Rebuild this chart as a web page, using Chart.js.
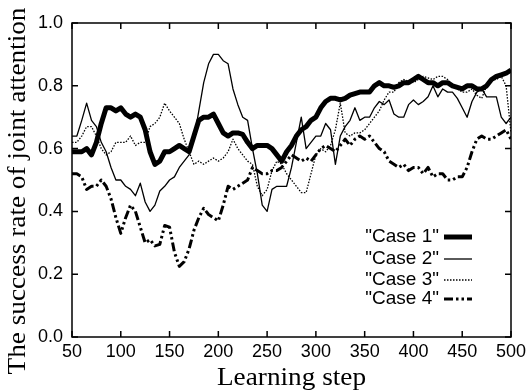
<!DOCTYPE html>
<html><head><meta charset="utf-8">
<script src="https://cdn.jsdelivr.net/npm/chart.js@4"></script>
<style>html,body{margin:0;padding:0;background:#fff}canvas{display:block}</style>
</head><body>
<canvas id="c" width="531" height="392"></canvas>
<script>
const steps = [50,55,60,65,70,75,80,85,90,95,100,105,110,115,120,125,130,135,140,145,150,155,160,165,170,175,180,185,190,195,200,205,210,215,220,225,230,235,240,245,250,255,260,265,270,275,280,285,290,295,300,305,310,315,320,325,330,335,340,345,350,355,360,365,370,375,380,385,390,395,400,405,410,415,420,425,430,435,440,445,450,455,460,465,470,475,480,485,490,495,500];

const case1 = [0.59,0.59,0.59,0.60,0.58,0.62,0.68,0.73,0.73,0.72,0.73,0.71,0.70,0.71,0.70,0.66,0.59,0.55,0.56,0.59,0.59,0.60,0.61,0.60,0.59,0.64,0.69,0.70,0.70,0.71,0.68,0.65,0.64,0.65,0.65,0.645,0.62,0.60,0.61,0.61,0.61,0.60,0.58,0.56,0.59,0.61,0.64,0.66,0.67,0.69,0.70,0.73,0.75,0.76,0.76,0.755,0.76,0.77,0.775,0.78,0.78,0.78,0.80,0.81,0.80,0.80,0.795,0.80,0.81,0.81,0.82,0.83,0.82,0.81,0.81,0.80,0.81,0.81,0.80,0.795,0.79,0.80,0.80,0.79,0.79,0.80,0.82,0.83,0.835,0.84,0.85];

const case2 = [0.64,0.64,0.69,0.745,0.69,0.67,0.62,0.59,0.54,0.50,0.50,0.48,0.47,0.45,0.49,0.43,0.40,0.42,0.465,0.48,0.50,0.51,0.54,0.56,0.58,0.63,0.72,0.81,0.87,0.90,0.90,0.88,0.87,0.79,0.74,0.70,0.69,0.60,0.52,0.42,0.40,0.47,0.48,0.48,0.48,0.54,0.62,0.70,0.60,0.62,0.64,0.64,0.68,0.66,0.55,0.64,0.67,0.69,0.73,0.69,0.70,0.70,0.73,0.75,0.74,0.755,0.71,0.70,0.70,0.74,0.755,0.74,0.75,0.765,0.80,0.765,0.79,0.78,0.78,0.76,0.73,0.70,0.75,0.78,0.79,0.765,0.765,0.765,0.70,0.68,0.70];

const case3 = [0.62,0.62,0.64,0.67,0.67,0.64,0.60,0.58,0.59,0.62,0.62,0.62,0.64,0.61,0.62,0.62,0.67,0.68,0.70,0.745,0.72,0.70,0.68,0.63,0.59,0.55,0.56,0.55,0.56,0.57,0.56,0.57,0.59,0.63,0.60,0.58,0.56,0.55,0.48,0.45,0.47,0.53,0.56,0.55,0.52,0.50,0.48,0.46,0.46,0.52,0.58,0.60,0.59,0.61,0.66,0.745,0.65,0.64,0.65,0.65,0.66,0.68,0.70,0.72,0.755,0.78,0.78,0.81,0.82,0.815,0.81,0.82,0.83,0.825,0.82,0.83,0.83,0.82,0.80,0.79,0.78,0.78,0.79,0.77,0.76,0.80,0.82,0.82,0.83,0.80,0.65];

const case4 = [0.52,0.52,0.51,0.47,0.48,0.48,0.50,0.48,0.44,0.38,0.33,0.38,0.42,0.40,0.35,0.30,0.31,0.29,0.295,0.355,0.35,0.27,0.225,0.24,0.28,0.34,0.38,0.41,0.39,0.38,0.37,0.42,0.48,0.47,0.48,0.49,0.50,0.54,0.53,0.52,0.52,0.53,0.53,0.54,0.56,0.58,0.57,0.56,0.57,0.56,0.58,0.60,0.61,0.60,0.59,0.61,0.63,0.61,0.63,0.64,0.63,0.64,0.62,0.60,0.59,0.56,0.55,0.54,0.55,0.53,0.54,0.54,0.52,0.54,0.51,0.52,0.52,0.50,0.50,0.51,0.51,0.54,0.59,0.63,0.64,0.63,0.63,0.64,0.65,0.66,0.63];

const seriesNames = ['"Case 1"','"Case 2"','"Case 3"','"Case 4"'];
const xTicks = [50,100,150,200,250,300,350,400,450,500];
const yTicks = [0.0,0.2,0.4,0.6,0.8,1.0];
const xTitle = 'Learning step';
const yTitle = 'The success rate of joint attention';

const styles = [
  {borderWidth:5, borderDash:[]},
  {borderWidth:1.3, borderDash:[]},
  {borderWidth:1.3, borderDash:[1.5,1.5]},
  {borderWidth:3, borderDash:[9,3,2.5,3,2.5,3]}
];
const series = [case1, case2, case3, case4];

const datasets = series.map((vals,i)=>({
  label: seriesNames[i],
  data: steps.map((s,j)=>({x:s, y:vals[j]})),
  borderColor:'#000',
  backgroundColor:'#000',
  borderWidth: styles[i].borderWidth,
  borderDash: styles[i].borderDash,
  pointRadius:0,
  tension:0,
  fill:false,
  borderJoinStyle:'round'
}));

const framePlugin = {
  id:'framePlugin',
  afterDraw(chart){
    const {ctx, chartArea:a, scales:{x,y}} = chart;
    ctx.save();
    ctx.strokeStyle='#000';
    ctx.lineWidth=1.5;
    ctx.strokeRect(a.left, a.top, a.right-a.left, a.bottom-a.top);
    ctx.beginPath();
    const tl = 6;
    xTicks.forEach(v=>{
      const px = x.getPixelForValue(v);
      ctx.moveTo(px,a.bottom); ctx.lineTo(px,a.bottom-tl);
      ctx.moveTo(px,a.top); ctx.lineTo(px,a.top+tl);
    });
    yTicks.forEach(v=>{
      const py = y.getPixelForValue(v);
      ctx.moveTo(a.left,py); ctx.lineTo(a.left+tl,py);
      ctx.moveTo(a.right,py); ctx.lineTo(a.right-tl,py);
    });
    ctx.stroke();

    // axis titles
    ctx.fillStyle='#000';
    ctx.font='25px "Liberation Serif", "Times New Roman", serif';
    ctx.textAlign='center';
    ctx.textBaseline='alphabetic';
    ctx.save();
    ctx.translate((a.left+a.right)/2, 385);
    ctx.scale(1.09,1);
    ctx.fillText(xTitle, 0, 0);
    ctx.restore();
    ctx.save();
    ctx.translate(25, 191);
    ctx.rotate(-Math.PI/2);
    ctx.scale(1.09,1);
    ctx.fillText(yTitle, 0, 0);
    ctx.restore();

    // legend
    ctx.font='19px "Liberation Sans", Arial, sans-serif';
    ctx.textAlign='right';
    ctx.textBaseline='middle';
    const rows=[237,259,280,299];
    chart.data.datasets.forEach((ds,i)=>{
      const ry = rows[i];
      ctx.fillText(ds.label, 439, ry);
      ctx.beginPath();
      ctx.lineWidth = ds.borderWidth;
      ctx.setLineDash(ds.borderDash);
      ctx.moveTo(444, ry); ctx.lineTo(472, ry);
      ctx.stroke();
    });
    ctx.setLineDash([]);
    ctx.restore();
  }
};

new Chart(document.getElementById('c'), {
  type:'line',
  data:{datasets},
  plugins:[framePlugin],
  options:{
    responsive:false,
    animation:false,
    layout:{padding:{left:0, top:23, right:20, bottom:0}},
    plugins:{legend:{display:false}, tooltip:{enabled:false}},
    scales:{
      x:{
        type:'linear', min:50, max:500,
        afterFit(s){ s.height = 55; },
        afterBuildTicks(s){ s.ticks = xTicks.map(v=>({value:v})); },
        grid:{display:false, drawTicks:false},
        border:{display:false},
        ticks:{color:'#000', padding:4, maxRotation:0, font:{family:'"Liberation Sans", Arial, sans-serif', size:18}}
      },
      y:{
        type:'linear', min:0, max:1,
        afterFit(s){ s.width = 72; },
        afterBuildTicks(s){ s.ticks = yTicks.map(v=>({value:v})); },
        grid:{display:false, drawTicks:false},
        border:{display:false},
        ticks:{color:'#000', padding:9, callback:v=>Number(v).toFixed(1), font:{family:'"Liberation Sans", Arial, sans-serif', size:18}}
      }
    }
  }
});
</script>
</body></html>
